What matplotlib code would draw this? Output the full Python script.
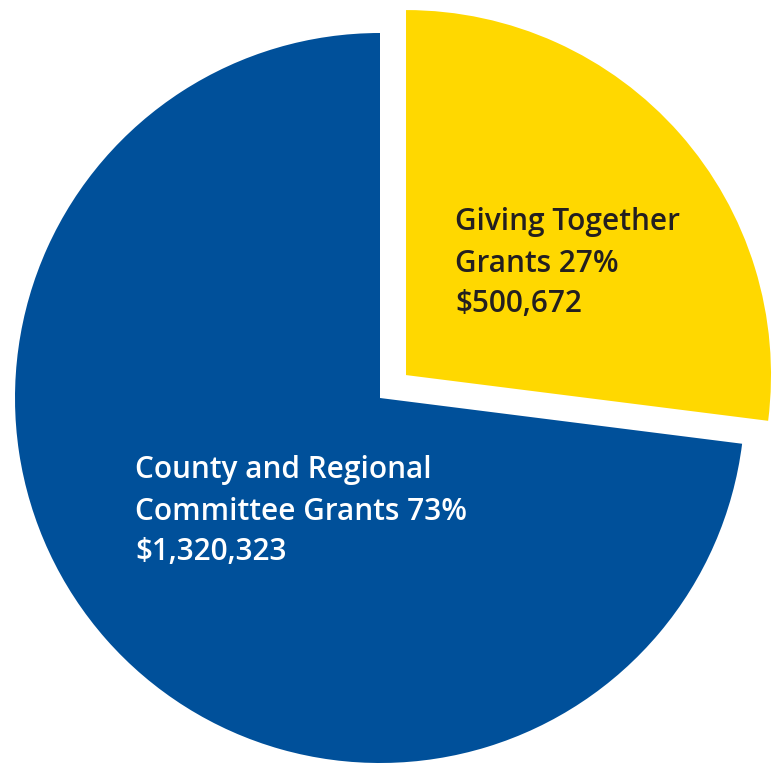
import matplotlib
matplotlib.use("Agg")
import matplotlib.pyplot as plt

categories = ["Giving Together\nGrants", "County and Regional\nCommittee Grants"]
percent_values = [27, 73]
amounts = ["$500,672", "$1,320,323"]
colors = ["#FFD800", "#00509A"]
text_colors = ["#231F20", "#FFFFFF"]

fig = plt.figure(figsize=(7.73, 7.64), dpi=100)
ax = fig.add_axes([0, 0, 1, 1])
ax.set_aspect("equal")

R = 365.0
cx, cy = 380.0, 398.0
W, H = 773.0, 764.0

def px(x, y):
    return ((x - cx) / R, (cy - y) / R)

ax.pie(percent_values, colors=colors, startangle=90, counterclock=False,
       explode=[0.095, 0], radius=1.0,
       wedgeprops=dict(linewidth=0, antialiased=True))

ax.set_xlim(-cx / R, (W - cx) / R)
ax.set_ylim(-(H - cy) / R, cy / R)
ax.axis("off")

label_pos = [(455, [230, 272, 312]), (135, [478, 520, 560])]
for i in range(2):
    first, second = categories[i].split("\n")
    lines = [first, f"{second} {percent_values[i]}%", amounts[i]]
    x0, bases = label_pos[i]
    for line, b in zip(lines, bases):
        xx, yy = px(x0, b)
        ax.text(xx, yy, line, ha="left", va="baseline", fontsize=21.4,
                family=["Open Sans", "DejaVu Sans"], weight="semibold",
                color=text_colors[i])

fig.savefig("out.png", dpi=100)
